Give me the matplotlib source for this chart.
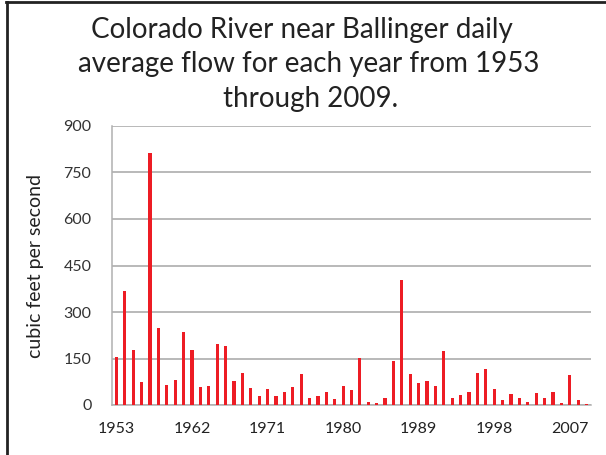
import matplotlib
matplotlib.use("Agg")
import matplotlib.pyplot as plt
from matplotlib.lines import Line2D
import numpy as np

years = list(range(1953, 2010))
flow = [154, 369, 176, 73, 812, 247, 63, 81, 237, 176,
        58, 60, 197, 191, 76, 102, 55, 30, 52, 29,
        42, 59, 99, 22, 29, 42, 19, 60, 47, 152,
        9, 6, 22, 141, 404, 99, 70, 77, 61, 174,
        22, 31, 42, 103, 115, 52, 16, 34, 24, 10,
        40, 24, 41, 6, 96, 17, 3]
yticks = [0, 150, 300, 450, 600, 750, 900]
xtick_years = [1953, 1962, 1971, 1980, 1989, 1998, 2007]
title_lines = ['Colorado River near Ballinger daily',
               'average flow for each year from 1953',
               'through 2009.']
title_centers = [302, 309, 311]

plt.rcParams['font.family'] = ['Lato', 'DejaVu Sans']

fig = plt.figure(figsize=(6.06, 4.55), dpi=100)
ax = fig.add_axes([112.3/606, 50/455, (590.7-112.3)/606, (405-126)/455])

x = np.arange(len(years))
ax.bar(x, flow, width=0.38, color='#ED1C24', zorder=3)
ax.set_xlim(-0.5, len(years) - 0.5)
ax.set_ylim(0, 900)
ax.set_yticks(yticks)
ax.set_yticklabels([str(v) for v in yticks], fontsize=11.5, color='#333333')
ax.set_xticks([years.index(y) for y in xtick_years])
ax.set_xticklabels([str(y) for y in xtick_years], fontsize=11.5, color='#222222')
ax.tick_params(axis='both', length=0)
ax.tick_params(axis='y', pad=15)
ax.tick_params(axis='x', pad=12)
ax.yaxis.grid(True, color='#a6a6a6', linewidth=1.1, zorder=0)
for s in ['top', 'right']:
    ax.spines[s].set_visible(False)
for s in ['left', 'bottom']:
    ax.spines[s].set_color('#b0b0b0')
    ax.spines[s].set_linewidth(1.1)
ax.set_ylabel('cubic feet per second', fontsize=14, color='#222222', labelpad=14)

for i, line in enumerate(title_lines):
    fig.text(title_centers[i]/606, 1 - (38 + 34.3*i)/455, line,
             ha='center', va='baseline', fontsize=20, color='#222222')

fig.add_artist(Line2D([7/606, 7/606], [0, 1 - 2/455], transform=fig.transFigure, color='#222222', linewidth=2))
fig.add_artist(Line2D([6/606, 1], [1 - 2/455, 1 - 2/455], transform=fig.transFigure, color='#222222', linewidth=2))

fig.savefig('out.png', dpi=100)
